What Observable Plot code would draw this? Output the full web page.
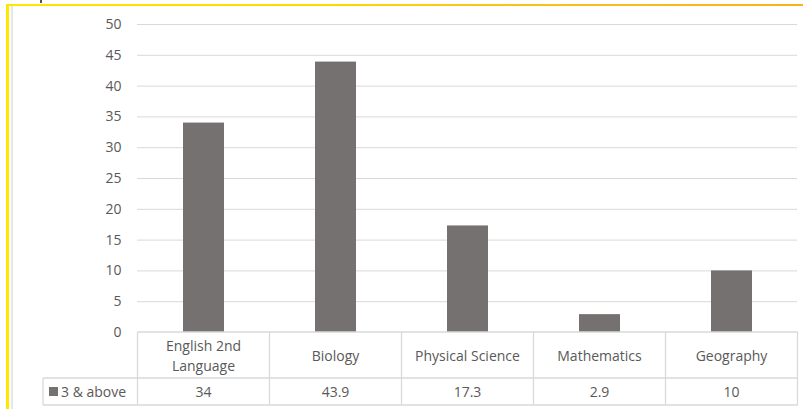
<!DOCTYPE html>
<html>
<head>
<meta charset="utf-8">
<script src="https://cdn.jsdelivr.net/npm/d3@7"></script>
<script src="https://cdn.jsdelivr.net/npm/@observablehq/plot@0.6"></script>
<style>
  html, body { margin: 0; padding: 0; background: #fff; }
  #wrap { position: relative; width: 803px; height: 409px; overflow: hidden; }
  #chart { position: absolute; left: 0; top: 0; }
  .topline { position: absolute; left: 6px; top: 4px; width: 797px; height: 2px;
    background: linear-gradient(to right, #ffe600 0%, #ffd800 40%, #fcc317 60%, #f9b21e 100%); }
  .leftline { position: absolute; left: 6px; top: 4px; width: 3px; height: 405px; background: #ffe800; }
  .innerline { position: absolute; left: 11px; top: 6px; width: 2px; height: 403px; background: #e6e6e6; }
  .tick { position: absolute; left: 40px; top: 0px; width: 2px; height: 3px; background: #555; }
</style>
</head>
<body>
<div id="wrap">
  <div id="chart"></div>
  <div class="topline"></div>
  <div class="leftline"></div>
  <div class="innerline"></div>
  <div class="tick"></div>
</div>
<script>
const categories = ["English 2nd Language", "Biology", "Physical Science", "Mathematics", "Geography"];
const categoryLines = [["English 2nd", "Language"], ["Biology"], ["Physical Science"], ["Mathematics"], ["Geography"]];
const values = [34, 43.9, 17.3, 2.9, 10];
const valueLabels = ["34", "43.9", "17.3", "2.9", "10"];
const seriesName = "3 & above";
const yTicks = [0, 5, 10, 15, 20, 25, 30, 35, 40, 45, 50];

const data = categories.map((c, i) => ({category: c, value: values[i]}));
const font = "'Open Sans', sans-serif";
const fontSize = 14;
const textColor = "#595959";
const lineColor = "#d9d9d9";

const plot = Plot.plot({
  width: 803,
  height: 409,
  marginLeft: 137,
  marginRight: 6,
  marginTop: 24,
  marginBottom: 77,
  style: {fontFamily: font, fontSize: fontSize + "px", background: "transparent", overflow: "visible"},
  x: {domain: categories, paddingInner: 0.69, paddingOuter: 0.345, axis: null},
  y: {domain: [0, 50], ticks: yTicks},
  marks: [
    Plot.gridY(yTicks.filter(d => d > 0), {stroke: lineColor, strokeOpacity: 1, strokeWidth: 1}),
    Plot.axisY(yTicks, {tickSize: 0, tickPadding: 16, fontSize: fontSize, color: textColor, label: null}),
    Plot.barY(data, {x: "category", y: "value", fill: "#767171"})
  ]
});
document.getElementById("chart").appendChild(plot);

// data table under the chart, positioned from the plot's own scales
const xs = plot.scale("x");
const ys = plot.scale("y");
const step = xs.step, bw = xs.bandwidth;
const centers = categories.map(c => xs.apply(c) + bw / 2);
const left = centers[0] - step / 2;
const right = centers[centers.length - 1] + step / 2;
const y0 = ys.apply(0);
const rowSplit = y0 + 46;
const bottom = y0 + 73;
const legendLeft = 43;

const svg = d3.select(plot);
const g = svg.append("g").attr("font-family", font).attr("font-size", fontSize).attr("fill", textColor);
const line = (x1, y1, x2, y2) => g.append("line").attr("x1", x1).attr("y1", y1).attr("x2", x2).attr("y2", y2)
  .attr("stroke", lineColor).attr("stroke-width", 1.3);

line(left, y0, right, y0);
line(legendLeft, rowSplit, right, rowSplit);
line(legendLeft, bottom, right, bottom);
line(legendLeft, rowSplit, legendLeft, bottom);
line(left, y0, left, bottom);
centers.forEach(c => line(c + step / 2, y0, c + step / 2, bottom));

const txt = (x, y, t, anchor) => g.append("text").attr("x", x).attr("y", y)
  .attr("text-anchor", anchor).attr("dominant-baseline", "central")
  .attr("fill", textColor).attr("font-size", fontSize).text(t);

categoryLines.forEach((lines, i) => {
  const n = lines.length;
  lines.forEach((t, j) => txt(centers[i], (y0 + rowSplit) / 2 + (j - (n - 1) / 2) * 20, t, "middle"));
  txt(centers[i], (rowSplit + bottom) / 2, valueLabels[i], "middle");
});

g.append("rect").attr("x", 49).attr("y", (rowSplit + bottom) / 2 - 4.5).attr("width", 9).attr("height", 9).attr("fill", "#767171");
txt(61, (rowSplit + bottom) / 2, seriesName, "start");
</script>
</body>
</html>
